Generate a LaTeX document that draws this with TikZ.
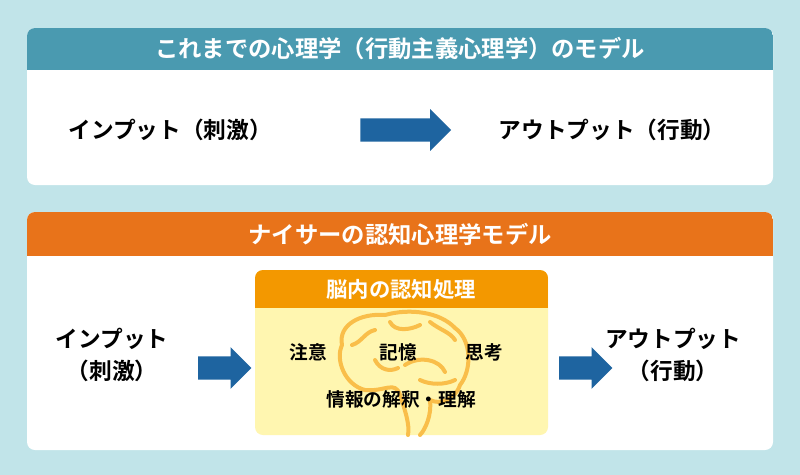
\documentclass[tikz,border=0pt]{standalone}
\usepackage{fontspec}
\setmainfont{Noto Sans CJK JP}
\newfontfamily\jpbold{Noto Sans CJK JP Bold}
\usetikzlibrary{shapes.arrows}
\definecolor{bgblue}{RGB}{193,228,233}
\definecolor{teal}{RGB}{74,154,176}
\definecolor{orange}{RGB}{232,115,26}
\definecolor{amber}{RGB}{243,152,0}
\definecolor{cream}{RGB}{255,246,176}
\definecolor{brain}{RGB}{249,190,74}
\definecolor{arrowblue}{RGB}{30,100,160}
\tikzset{
  panel/.style={fill=white,rounded corners=6pt},
  title/.style={text=white,font=\jpbold\fontsize{17.5}{20}\selectfont},
  label/.style={font=\jpbold\fontsize{17}{24}\selectfont,align=center},
  small/.style={font=\jpbold\fontsize{14}{16}\selectfont},
  bigarrow/.style={single arrow,fill=arrowblue,single arrow head extend=7pt,
    minimum width=31pt,inner sep=0pt,text height=17pt,text depth=0pt,anchor=center},
}
\begin{document}
\begin{tikzpicture}[x=0.75pt,y=-0.75pt]
\fill[bgblue] (0,0) rectangle (800,475);
% panel 1
\fill[panel] (27,28) rectangle (773,185);
\begin{scope}
\clip[rounded corners=6pt] (27,28) rectangle (773,185);
\fill[teal] (27,28) rectangle (773,70);
\end{scope}
\node[title] (t1) at (400,49) {これまでの心理学（行動主義心理学）のモデル};
\node[label] (in1) at (170,130) {インプット（刺激）};
\node[bigarrow,minimum height=68pt] (a1) at (400,130) {};
\node[label] (out1) at (612,130) {アウトプット（行動）};
% panel 2
\fill[panel] (27,212) rectangle (773,450);
\begin{scope}
\clip[rounded corners=6pt] (27,212) rectangle (773,450);
\fill[orange] (27,212) rectangle (773,256);
\end{scope}
\node[title] (t2) at (400,234) {ナイサーの認知心理学モデル};
\node[label] (in2) at (112,355) {インプット\\（刺激）};
\node[bigarrow,minimum height=40pt] (a2) at (219,368) {};
\node[bigarrow,minimum height=40pt] (a3) at (580,368) {};
\node[label] (out2) at (673,355) {アウトプット\\（行動）};
% inner box
\fill[cream,rounded corners=6pt] (255,270) rectangle (548,435);
\begin{scope}
\clip[rounded corners=6pt] (255,270) rectangle (548,435);
\fill[amber] (255,270) rectangle (548,308);
\end{scope}
\node[title,font=\jpbold\fontsize{16}{18}\selectfont] (t3) at (401,289) {脳内の認知処理};
% brain
\begin{scope}[draw=brain,line width=3pt,line cap=round,line join=round]
\draw (365,390) .. controls (345,385) and (335,360) .. (342,345)
  .. controls (338,325) and (360,313) .. (385,315)
  .. controls (410,308) and (440,312) .. (455,328)
  .. controls (472,340) and (472,370) .. (460,385)
  .. controls (455,400) and (440,405) .. (430,400)
  .. controls (432,415) and (425,430) .. (420,435);
\draw (365,390) .. controls (385,392) and (395,380) .. (400,395)
  .. controls (405,410) and (410,425) .. (408,435);
\draw (352,345) .. controls (362,342) and (365,332) .. (375,330);
\draw (390,322) .. controls (395,332) and (410,330) .. (420,325);
\draw (430,322) .. controls (440,330) and (450,332) .. (455,340);
\draw (405,365) .. controls (420,355) and (440,360) .. (445,372);
\draw (420,380) .. controls (430,385) and (445,385) .. (455,380);
\draw (375,360) .. controls (380,370) and (390,372) .. (398,368);
\end{scope}
\node[small] (n1) at (308,352) {注意};
\node[small] (n2) at (398,352) {記憶};
\node[small] (n3) at (484,352) {思考};
\node[small] (n4) at (401,399) {情報の解釈・理解};
\end{tikzpicture}
\end{document}
